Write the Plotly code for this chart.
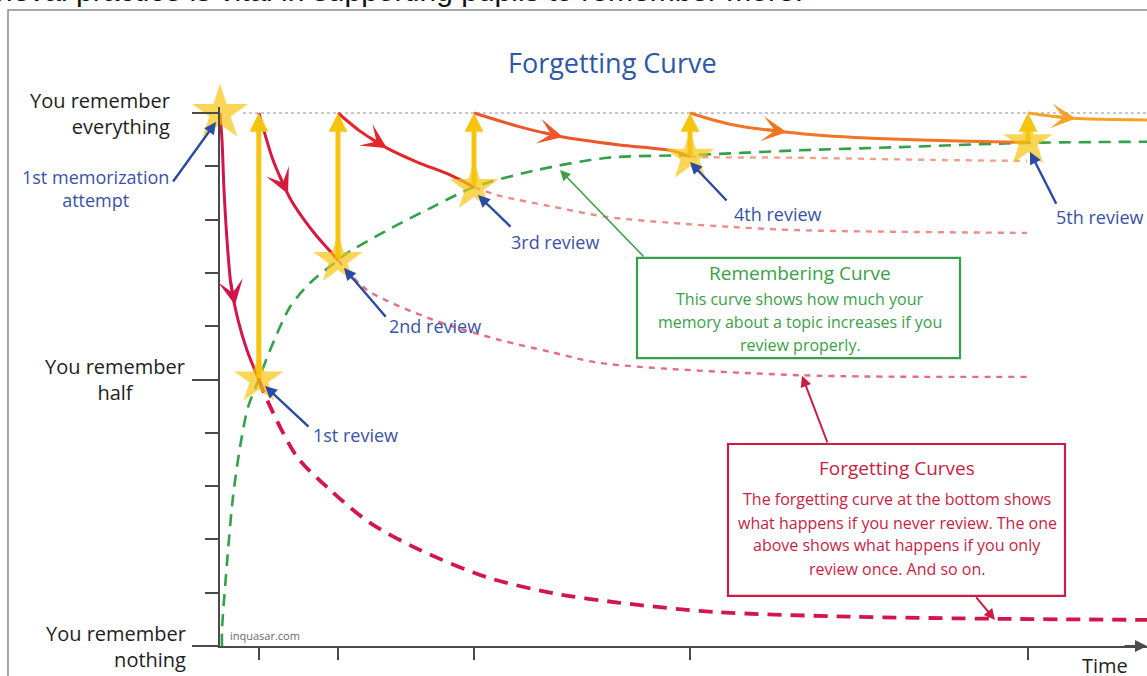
import numpy as np
import plotly.graph_objects as go

# ---------------- data (time in arbitrary units, retention 0..1) ----------------
review_t = [0.97, 2.95, 6.35, 11.75, 20.2]
star_t = [0.0, 0.97, 2.95, 6.35, 11.75, 20.2]
star_r = [1.0, 0.50, 0.724, 0.861, 0.918, 0.945]
star_size = [42, 37, 37, 37, 37, 37]

# forgetting curve without review
f0_solid_t = [0.0, 0.05, 0.10, 0.175, 0.275, 0.45, 0.675, 0.97]
f0_solid_r = [1.0, 0.949, 0.856, 0.762, 0.677, 0.612, 0.555, 0.50]
f0_dash_t = [0.97, 1.175, 1.925, 2.75, 3.75, 5.0, 6.675, 8.325, 10.0, 12.325, 15.75, 19.5, 23.175]
f0_dash_r = [0.50, 0.462, 0.355, 0.293, 0.231, 0.18, 0.129, 0.099, 0.081, 0.064, 0.055, 0.051, 0.049]

# after 1st review
f1_solid_t = [0.97, 1.125, 1.3, 1.5, 1.75, 2.05, 2.375, 2.675, 2.95]
f1_solid_r = [1.0, 0.960, 0.917, 0.880, 0.840, 0.805, 0.773, 0.747, 0.724]
f1_dash_t = [2.95, 3.675, 5.325, 7.0, 8.25, 9.5, 14.5, 20.175]
f1_dash_r = [0.724, 0.668, 0.612, 0.574, 0.552, 0.531, 0.508, 0.505]

# after 2nd review
f2_solid_t = [2.95, 3.5, 4.175, 4.925, 5.75, 6.35]
f2_solid_r = [1.0, 0.966, 0.934, 0.908, 0.884, 0.861]
f2_dash_t = [6.35, 6.925, 8.325, 9.675, 11.25, 12.825, 14.5, 20.175]
f2_dash_r = [0.861, 0.846, 0.824, 0.805, 0.794, 0.786, 0.780, 0.775]

# after 3rd review
f3_solid_t = [6.35, 7.5, 8.575, 10.0, 11.325, 11.75]
f3_solid_r = [1.0, 0.974, 0.955, 0.94, 0.929, 0.918]
f3_dash_t = [11.75, 12.25, 14.5, 17.825, 20.175]
f3_dash_r = [0.918, 0.917, 0.916, 0.912, 0.910]

# after 4th review
f4_solid_t = [11.75, 12.75, 14.175, 16.175, 19.325, 20.2]
f4_solid_r = [1.0, 0.979, 0.964, 0.953, 0.946, 0.945]

# after 5th review
f5_solid_t = [20.2, 21.3, 23.175]
f5_solid_r = [1.0, 0.99, 0.987]

# remembering curve
green_t = [0.05, 0.05, 0.175, 0.325, 0.5, 0.7, 0.97, 1.25, 1.75, 2.25, 2.95, 3.175, 4.175,
           5.325, 6.35, 7.925, 9.675, 11.75, 14.5, 17.0, 20.175, 23.175]
green_r = [0.0, 0.03, 0.156, 0.28, 0.373, 0.448, 0.5, 0.555, 0.636, 0.681, 0.724, 0.737, 0.78,
           0.824, 0.861, 0.893, 0.916, 0.921, 0.930, 0.936, 0.944, 0.946]

y_labels = ["You remember<br>everything", "You remember<br>half", "You remember<br>nothing"]
y_label_vals = [1.0, 0.5, 0.0]
review_labels = ["1st review", "2nd review", "3rd review", "4th review", "5th review"]

FONT = "Open Sans"
T_MAX = 23.175
Y_TOP = 1.012
PX_T = 40.0    # pixels per time unit (for arrow sizing only)
PX_R = 533.0   # pixels per retention unit
STAR = "#F6C40F"

fig = go.Figure()


def line(ts, rs, color, width, dash=None):
    fig.add_trace(go.Scatter(x=ts, y=rs, mode="lines",
                             line=dict(color=color, width=width, dash=dash, shape="spline",
                                       smoothing=0.8),
                             hoverinfo="skip"))


line(green_t, green_r, "#33A04A", 2.6, "12px,8px")
line(f1_dash_t, f1_dash_r, "#E86A88", 2.4, "6px,6px")
line(f2_dash_t, f2_dash_r, "#F08A8A", 2.4, "6px,6px")
line(f3_dash_t, f3_dash_r, "#F4A088", 2.4, "6px,6px")
line(f0_dash_t, f0_dash_r, "#D2164C", 3.8, "14px,9px")
line(f0_solid_t, f0_solid_r, "#D2164C", 3)
line(f1_solid_t, f1_solid_r, "#D51A40", 3)
line(f2_solid_t, f2_solid_r, "#E4262B", 3)
line(f3_solid_t, f3_solid_r, "#EE5629", 3)
line(f4_solid_t, f4_solid_r, "#F27524", 3)
line(f5_solid_t, f5_solid_r, "#F5A328", 3)

fig.add_trace(go.Scatter(x=star_t, y=star_r, mode="markers", cliponaxis=False,
                         marker=dict(symbol="star", size=star_size, color=STAR,
                                     line=dict(width=0)),
                         hoverinfo="skip"))

ann = []


def arrow(x, y, ax, ay, color, width, head=2, size=1.0):
    ann.append(dict(x=x, y=y, ax=ax, ay=ay, xref="x", yref="y", axref="x", ayref="y",
                    text="", showarrow=True, arrowhead=head, arrowsize=size,
                    arrowwidth=width, arrowcolor=color, standoff=0, startstandoff=0))


def curve_arrow(ts, rs, t_head, color, width=2.6):
    r_head = float(np.interp(t_head, ts, rs))
    dt = 0.01
    while True:
        t_tail = t_head - dt
        r_tail = float(np.interp(t_tail, ts, rs))
        if np.hypot(dt * PX_T, (r_tail - r_head) * PX_R) >= 22 or t_tail <= ts[0]:
            break
        dt += 0.01
    arrow(t_head, r_head, t_tail, r_tail, color, width, head=3, size=1.6)


def text(x, y, s, size, color, xanchor="center", align="center", xshift=0, ref=("x", "y")):
    ann.append(dict(x=x, y=y, xref=ref[0], yref=ref[1], text=s, showarrow=False,
                    font=dict(family=FONT, size=size, color=color),
                    xanchor=xanchor, yanchor="middle", align=align, xshift=xshift))


# yellow review arrows
for t, r in zip(star_t[1:], star_r[1:]):
    arrow(t, 1.0, t, r, STAR, 5, head=2, size=0.75)

# arrowheads along the curves
curve_arrow(f0_solid_t, f0_solid_r, 0.375, "#D2164C")
curve_arrow(f1_solid_t, f1_solid_r, 1.7, "#D51A40")
curve_arrow(f2_solid_t, f2_solid_r, 4.175, "#E4262B")
curve_arrow(f3_solid_t, f3_solid_r, 8.575, "#EE5629")
curve_arrow(f4_solid_t, f4_solid_r, 14.175, "#F27524")
curve_arrow(f5_solid_t, f5_solid_r, 21.4, "#F5A328")

# x-axis arrow head
arrow(T_MAX, 0, T_MAX - 0.6, 0, "#4A4A4A", 2, head=2, size=1.2)

# blue pointer arrows to each review star, with labels
blue_heads = [(1.125, 0.488), (3.1, 0.709), (6.45, 0.846), (11.75, 0.908), (20.25, 0.927)]
blue_tails = [(2.25, 0.409), (4.175, 0.615), (7.3, 0.784), (12.7, 0.833), (20.925, 0.827)]
label_pos = [(3.375, 0.396), (5.375, 0.600), (8.375, 0.758), (13.95, 0.811), (21.99, 0.805)]
for (hx, hy), (tx, ty), (lx, ly), lab in zip(blue_heads, blue_tails, label_pos, review_labels):
    arrow(hx, hy, tx, ty, "#2A4AA5", 2.4, head=2, size=1.0)
    text(lx, ly, lab, 18, "#3A52A6")

# first memorization attempt (left of the y axis -> paper coordinates)
ann.append(dict(x=-0.0043, y=0.8239, xref="paper", yref="paper", ax=-44, ay=61,
                text="", showarrow=True, arrowhead=2, arrowsize=1.0, arrowwidth=2.4,
                arrowcolor="#2A4AA5", standoff=0, startstandoff=0))
text(-0.1348, 0.7201, "1st memorization<br>attempt", 18, "#3A52A6", ref=("paper", "paper"))

# y-axis labels
shifts = [-48, -33, -32]
aligns = ["right", "center", "right"]
for lab, v, sh, al in zip(y_labels, y_label_vals, shifts, aligns):
    text(0, v, lab, 20, "#1E1E1E", xanchor="right", align=al, xshift=sh)

text(0.9547, -0.0299, "Time", 20, "#1E1E1E", ref=("paper", "paper"))
text(0.4229, 0.9167, "Forgetting Curve", 27, "#2E57A8", ref=("paper", "paper"))
ann.append(dict(x=0.2, y=0.019, xref="x", yref="y", text="inquasar.com", showarrow=False,
                xanchor="left", yanchor="middle",
                font=dict(family=FONT, size=11, color="#6A6A6A")))

# green box
text(14.5, 0.700, "Remembering Curve", 19, "#3A9F48")
for s, y in zip(["This curve shows how much your", "memory about a topic increases if you",
                 "review properly."], [0.651, 0.608, 0.565]):
    text(14.5, y, s, 16, "#3A9F48")
arrow(8.5, 0.893, 10.625, 0.728, "#3CA04A", 1.6, head=2, size=1.3)

# crimson box
text(16.925, 0.334, "Forgetting Curves", 19, "#C81E45")
for s, y in zip(["The forgetting curve at the bottom shows", "what happens if you never review. The one",
                 "above shows what happens if you only", "review once. And so on."],
                [0.276, 0.231, 0.189, 0.144]):
    text(16.925, y, s, 16, "#C81E45")
arrow(14.55, 0.507, 15.2, 0.379, "#C81E45", 2, head=2, size=1.1)
arrow(19.375, 0.049, 18.875, 0.094, "#C81E45", 2, head=2, size=1.1)

# clipped caption line above the frame
ann.append(dict(x=14.625, y=1.0, xref="x", yref="paper",
                text="retrieval practice is vital in supporting pupils to remember more.",
                showarrow=False, xanchor="right", yanchor="bottom", yshift=1,
                font=dict(family="Liberation Sans", size=30, color="#111111")))

shapes = [
    dict(type="rect", xref="x", yref="y", x0=10.425, x1=18.5, y0=0.540, y1=0.728,
         line=dict(color="#33A04A", width=2.2), fillcolor="rgba(0,0,0,0)"),
    dict(type="rect", xref="x", yref="y", x0=12.7, x1=21.125, y0=0.094, y1=0.379,
         line=dict(color="#C81E45", width=2.2), fillcolor="rgba(0,0,0,0)"),
    dict(type="line", xref="x", yref="y", x0=0.575, x1=T_MAX, y0=1.0, y1=1.0,
         line=dict(color="#C5C8D2", width=2, dash="dot"), layer="below"),
    dict(type="rect", xref="paper", yref="paper", x0=-0.2287, x1=1.05, y0=-0.2, y1=1.0,
         line=dict(color="#8A8A8A", width=1.5), fillcolor="rgba(0,0,0,0)"),
]

fig.update_layout(
    width=1147, height=676,
    margin=dict(l=220, r=0, t=10, b=30),
    paper_bgcolor="white", plot_bgcolor="white",
    showlegend=False, hovermode=False,
    annotations=ann, shapes=shapes,
    xaxis=dict(range=[0, T_MAX], showgrid=False, zeroline=False, showline=True,
               linecolor="#4A4A4A", linewidth=2, ticks="outside", tickvals=review_t,
               ticklen=12, tickwidth=2, tickcolor="#4A4A4A", showticklabels=False, fixedrange=True),
    yaxis=dict(range=[0, Y_TOP], domain=[0, Y_TOP * PX_R / 636], showgrid=False, zeroline=False,
               showline=True, linecolor="#4A4A4A", linewidth=2, ticks="outside",
               tickmode="array", tickvals=y_label_vals, ticklen=26, tickwidth=2,
               tickcolor="#4A4A4A", showticklabels=False, fixedrange=True,
               minor=dict(tickmode="array", tickvals=[0.1, 0.2, 0.3, 0.4, 0.6, 0.7, 0.8, 0.9],
                          ticks="outside", ticklen=13, tickwidth=2, tickcolor="#4A4A4A",
                          showgrid=False)),
)

fig.write_html("out.html", config={"staticPlot": True},
               post_script="document.body.style.margin='0px';document.body.style.overflow='hidden';")
